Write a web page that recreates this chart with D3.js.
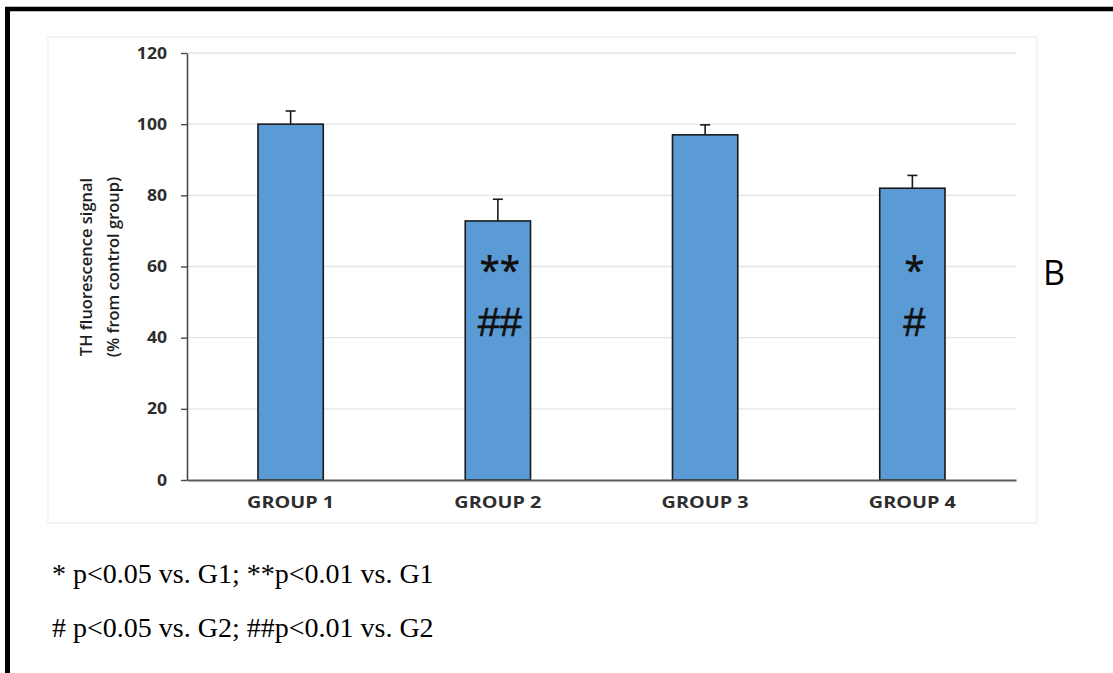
<!DOCTYPE html>
<html>
<head>
<meta charset="utf-8">
<script src="https://cdn.jsdelivr.net/npm/d3@7"></script>
<style>
  html, body { margin: 0; padding: 0; background: #fff; }
  svg { display: block; }
</style>
</head>
<body>
<svg id="chart" width="1113" height="673"></svg>
<script>
// TH fluorescence per group, mean with upper SEM bar
const categories = ["GROUP 1", "GROUP 2", "GROUP 3", "GROUP 4"];
const means = [100, 72.8, 97, 82];
const errors = [3.7, 6.1, 2.8, 3.6];
const yTicks = [0, 20, 40, 60, 80, 100, 120];
const starMarks = ["", "**", "", "*"];
const hashMarks = ["", "##", "", "#"];
const yTitleLines = ["TH fluorescence signal", "(% from control group)"];
const footnotes = ["* p<0.05 vs. G1; **p<0.01 vs. G1", "# p<0.05 vs. G2; ##p<0.01 vs. G2"];
const panelLabel = "B";

const svg = d3.select("#chart");
const W = 1113, H = 673;

const plot = { left: 187, right: 1016, top: 53, bottom: 480 };

const x = d3.scaleBand().domain(categories).range([plot.left, plot.right]).padding(0);
const y = d3.scaleLinear().domain([0, 120]).range([plot.bottom, plot.top]);
const barW = x.bandwidth() * 0.315;

// page frame: heavy rule across the top and down the left side
svg.append("line").attr("x1", 5).attr("x2", W).attr("y1", 9).attr("y2", 9)
  .attr("stroke", "#000").attr("stroke-width", 4.5);
svg.append("line").attr("x1", 7.5).attr("x2", 7.5).attr("y1", 7).attr("y2", H)
  .attr("stroke", "#000").attr("stroke-width", 5);

// faint chart-area border
svg.append("rect").attr("x", 48).attr("y", 37).attr("width", 989).attr("height", 486)
  .attr("fill", "#fff").attr("stroke", "#f1f1f1").attr("stroke-width", 1.5);

// horizontal gridlines
svg.append("g").selectAll("line").data(yTicks.filter(d => d > 0)).join("line")
  .attr("x1", plot.left).attr("x2", plot.right)
  .attr("y1", d => y(d)).attr("y2", d => y(d))
  .attr("stroke", "#e4e4e4").attr("stroke-width", 1.3);

// bars
svg.append("g").selectAll("rect").data(categories).join("rect")
  .attr("x", d => x(d) + x.bandwidth() / 2 - barW / 2)
  .attr("y", (d, i) => y(means[i]))
  .attr("width", barW)
  .attr("height", (d, i) => y(0) - y(means[i]))
  .attr("fill", "#5B9BD5")
  .attr("stroke", "#1a1a1a").attr("stroke-width", 1.6);

// upper error bars
const eb = svg.append("g").attr("stroke", "#1a1a1a").attr("stroke-width", 1.6);
categories.forEach((c, i) => {
  const cx = x(c) + x.bandwidth() / 2;
  eb.append("line").attr("x1", cx).attr("x2", cx)
    .attr("y1", y(means[i])).attr("y2", y(means[i] + errors[i]));
  eb.append("line").attr("x1", cx - 5).attr("x2", cx + 5)
    .attr("y1", y(means[i] + errors[i])).attr("y2", y(means[i] + errors[i]));
});

// y axis
const yScaleX = 1.1;
const yAxis = svg.append("g").attr("transform", `translate(${plot.left},0)`)
  .call(d3.axisLeft(y).tickValues(yTicks).tickSize(6).tickPadding(14).tickSizeOuter(0));
yAxis.select(".domain").attr("stroke", "#4a4a4a").attr("stroke-width", 1.6);
yAxis.selectAll(".tick line").attr("stroke", "#4a4a4a").attr("stroke-width", 1.4);
yAxis.selectAll(".tick text")
  .attr("x", -20 / yScaleX)
  .attr("transform", `scale(${yScaleX},1)`)
  .attr("fill", "#2e2e2e")
  .style("font-family", "'Open Sans', sans-serif")
  .style("font-weight", "700")
  .style("font-size", "16px");

// x axis
const xScaleX = 1.2;
const xAxis = svg.append("g").attr("transform", `translate(0,${plot.bottom})`)
  .call(d3.axisBottom(x).tickSize(0).tickPadding(16).tickSizeOuter(0));
xAxis.select(".domain").attr("stroke", "#5a5a5a").attr("stroke-width", 2);
xAxis.selectAll(".tick text")
  .attr("transform", `scale(${xScaleX},1)`)
  .attr("fill", "#2e2e2e")
  .style("font-family", "'Open Sans', sans-serif")
  .style("font-weight", "700")
  .style("font-size", "16.5px");

// y axis title, two rotated lines
const titleCenterY = 267;
[92, 119].forEach((bx, i) => {
  svg.append("text")
    .attr("transform", `translate(${bx},${titleCenterY}) rotate(-90)`)
    .attr("text-anchor", "middle")
    .attr("fill", "#1e1e1e")
    .style("font-family", "'Open Sans', sans-serif")
    .style("font-weight", "600")
    .style("font-size", "16.5px")
    .text(yTitleLines[i]);
});

// significance marks inside the bars
svg.append("g").selectAll("text").data(categories).join("text")
  .attr("x", d => x(d) + x.bandwidth() / 2 + 2)
  .attr("y", y(55))
  .attr("text-anchor", "middle")
  .attr("fill", "#111")
  .style("font-family", "'Open Sans', sans-serif")
  .style("font-weight", "600")
  .style("font-size", "37px")
  .text((d, i) => starMarks[i]);
svg.append("g").selectAll("text").data(categories).join("text")
  .attr("x", d => x(d) + x.bandwidth() / 2 + 2)
  .attr("y", y(40.5))
  .attr("text-anchor", "middle")
  .attr("fill", "#111")
  .style("font-family", "'Liberation Sans', Arial, sans-serif")
  .style("font-size", "40px")
  .style("stroke", "#111").style("stroke-width", "0.6px")
  .text((d, i) => hashMarks[i]);

// panel letter
svg.append("text").attr("x", 1043).attr("y", 285)
  .attr("fill", "#000")
  .style("font-family", "'Open Sans', sans-serif")
  .style("font-size", "34px")
  .text(panelLabel);

// footnotes
svg.append("g").selectAll("text").data(footnotes).join("text")
  .attr("x", 52)
  .attr("y", (d, i) => 583 + i * 54)
  .attr("fill", "#000")
  .style("font-family", "'Liberation Serif', 'Times New Roman', serif")
  .style("font-size", "28px")
  .text(d => d);
</script>
</body>
</html>
